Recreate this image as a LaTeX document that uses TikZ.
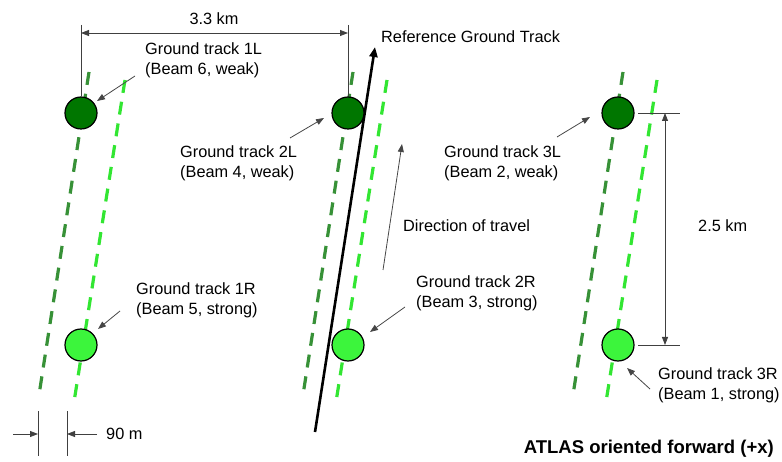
\documentclass[tikz,border=0pt]{standalone}
\usepackage{fontspec}
\setmainfont{Liberation Sans}
\usetikzlibrary{arrows.meta}
\definecolor{weakfill}{RGB}{0,118,0}
\definecolor{strongfill}{RGB}{60,245,60}
\definecolor{weakdash}{RGB}{55,145,55}
\definecolor{strongdash}{RGB}{50,230,50}
\definecolor{pointer}{RGB}{70,70,70}
\tikzset{
  x=1pt, y=-1pt,
  weakbeam/.style={circle, draw=black, line width=1.2pt, fill=weakfill, minimum size=32pt, inner sep=0pt},
  strongbeam/.style={circle, draw=black, line width=1.2pt, fill=strongfill, minimum size=32pt, inner sep=0pt},
  weaktrack/.style={draw=weakdash, line width=3.2pt, dash pattern=on 13pt off 9pt},
  strongtrack/.style={draw=strongdash, line width=3.2pt, dash pattern=on 13pt off 9pt},
  lbl/.style={font=\fontsize{16.3}{20}\selectfont, align=left, inner sep=0pt, anchor=north west},
  pointerline/.style={draw=pointer, line width=0.8pt, -{Triangle[length=8pt,width=6pt]}},
  dimline/.style={draw=black!75, line width=0.8pt},
  dimarrow/.style={draw=black!75, line width=0.8pt, {Triangle[length=8pt,width=6pt]}-{Triangle[length=8pt,width=6pt]}},
  onearrow/.style={draw=black!75, line width=0.8pt, -{Triangle[length=8pt,width=6pt]}},
}
\begin{document}
\begin{tikzpicture}
\useasboundingbox (0,0) rectangle (782,462);

% beam-pair ground tracks (weak = dark, strong = light)
\foreach \dx/\lx in {89/125, 353/387, 623/657}{
  \draw[weaktrack] (\dx,72) -- ({\dx-50},395);
  \draw[strongtrack] (\lx,80) -- ({\lx-51},402);
}

% reference ground track
\coordinate (rgtS) at (315,432);
\coordinate (rgtE) at (375,47);
\draw[line width=2.6pt, -{Triangle[length=10pt,width=8pt]}] (rgtS) -- (rgtE);
\node[lbl, anchor=west] (rgt) at (381,37) {Reference Ground Track};

% beam spots
\node[weakbeam]   (b1L) at (81,113) {};
\node[strongbeam] (b1R) at (81,345) {};
\node[weakbeam]   (b2L) at (348,113) {};
\node[strongbeam] (b2R) at (348,345) {};
\node[weakbeam]   (b3L) at (618,113) {};
\node[strongbeam] (b3R) at (618,345) {};

% 3.3 km spacing
\coordinate (d1t) at (81,25);
\coordinate (d2t) at (348,25);
\draw[dimline] (d1t) -- (b1L.north);
\draw[dimline] (d2t) -- (b2L.north);
\coordinate (d1a) at (81,33);
\coordinate (d2a) at (348,33);
\draw[dimarrow] (d1a) -- (d2a);
\node[lbl, anchor=center] (w33) at (214,19) {3.3 km};

% 2.5 km spacing
\coordinate (h1a) at (638,113);
\coordinate (h1b) at (680,113);
\coordinate (h2a) at (638,345);
\coordinate (h2b) at (680,345);
\draw[dimline] (h1a) -- (h1b);
\draw[dimline] (h2a) -- (h2b);
\coordinate (v1) at (665,113);
\coordinate (v2) at (665,345);
\draw[dimarrow] (v1) -- (v2);
\node[lbl, anchor=west] (w25) at (698,226) {2.5 km};

% 90 m pair spacing
\coordinate (p1t) at (38,411);
\coordinate (p1b) at (38,456);
\coordinate (p2t) at (67,411);
\coordinate (p2b) at (67,456);
\draw[dimline] (p1t) -- (p1b);
\draw[dimline] (p2t) -- (p2b);
\coordinate (q1s) at (13,434);
\coordinate (q1e) at (38,434);
\coordinate (q2s) at (97,434);
\coordinate (q2e) at (67,434);
\draw[onearrow] (q1s) -- (q1e);
\draw[onearrow] (q2s) -- (q2e);
\node[lbl, anchor=west] (w90) at (106,434) {90 m};

% direction of travel
\coordinate (dirS) at (383,270);
\coordinate (dirE) at (402,144);
\draw[pointerline] (dirS) -- (dirE);
\node[lbl, anchor=west] (dirl) at (403,226) {Direction of travel};

% beam labels
\node[lbl] (t1L) at (145,42) {Ground track 1L\\(Beam 6, weak)};
\coordinate (a1L) at (135,76);
\draw[pointerline] (a1L) -- (97,101);

\node[lbl] (t2L) at (180,145) {Ground track 2L\\(Beam 4, weak)};
\coordinate (a2L) at (290,138);
\draw[pointerline] (a2L) -- (324,118);

\node[lbl] (t3L) at (444,145) {Ground track 3L\\(Beam 2, weak)};
\coordinate (a3L) at (557,137);
\draw[pointerline] (a3L) -- (590,117);

\node[lbl] (t1R) at (136,282) {Ground track 1R\\(Beam 5, strong)};
\coordinate (a1R) at (120,311);
\draw[pointerline] (a1R) -- (98,329);

\node[lbl] (t2R) at (416,275) {Ground track 2R\\(Beam 3, strong)};
\coordinate (a2R) at (405,307);
\draw[pointerline] (a2R) -- (370,332);

\node[lbl] (t3R) at (658,367) {Ground track 3R\\(Beam 1, strong)};
\coordinate (a3R) at (650,389);
\draw[pointerline] (a3R) -- (627,368);

% orientation note
\node[font=\fontsize{18.5}{22}\selectfont\bfseries, anchor=east, inner sep=0pt] (atlas) at (774,449) {ATLAS oriented forward (+x)};
\end{tikzpicture}
\end{document}
